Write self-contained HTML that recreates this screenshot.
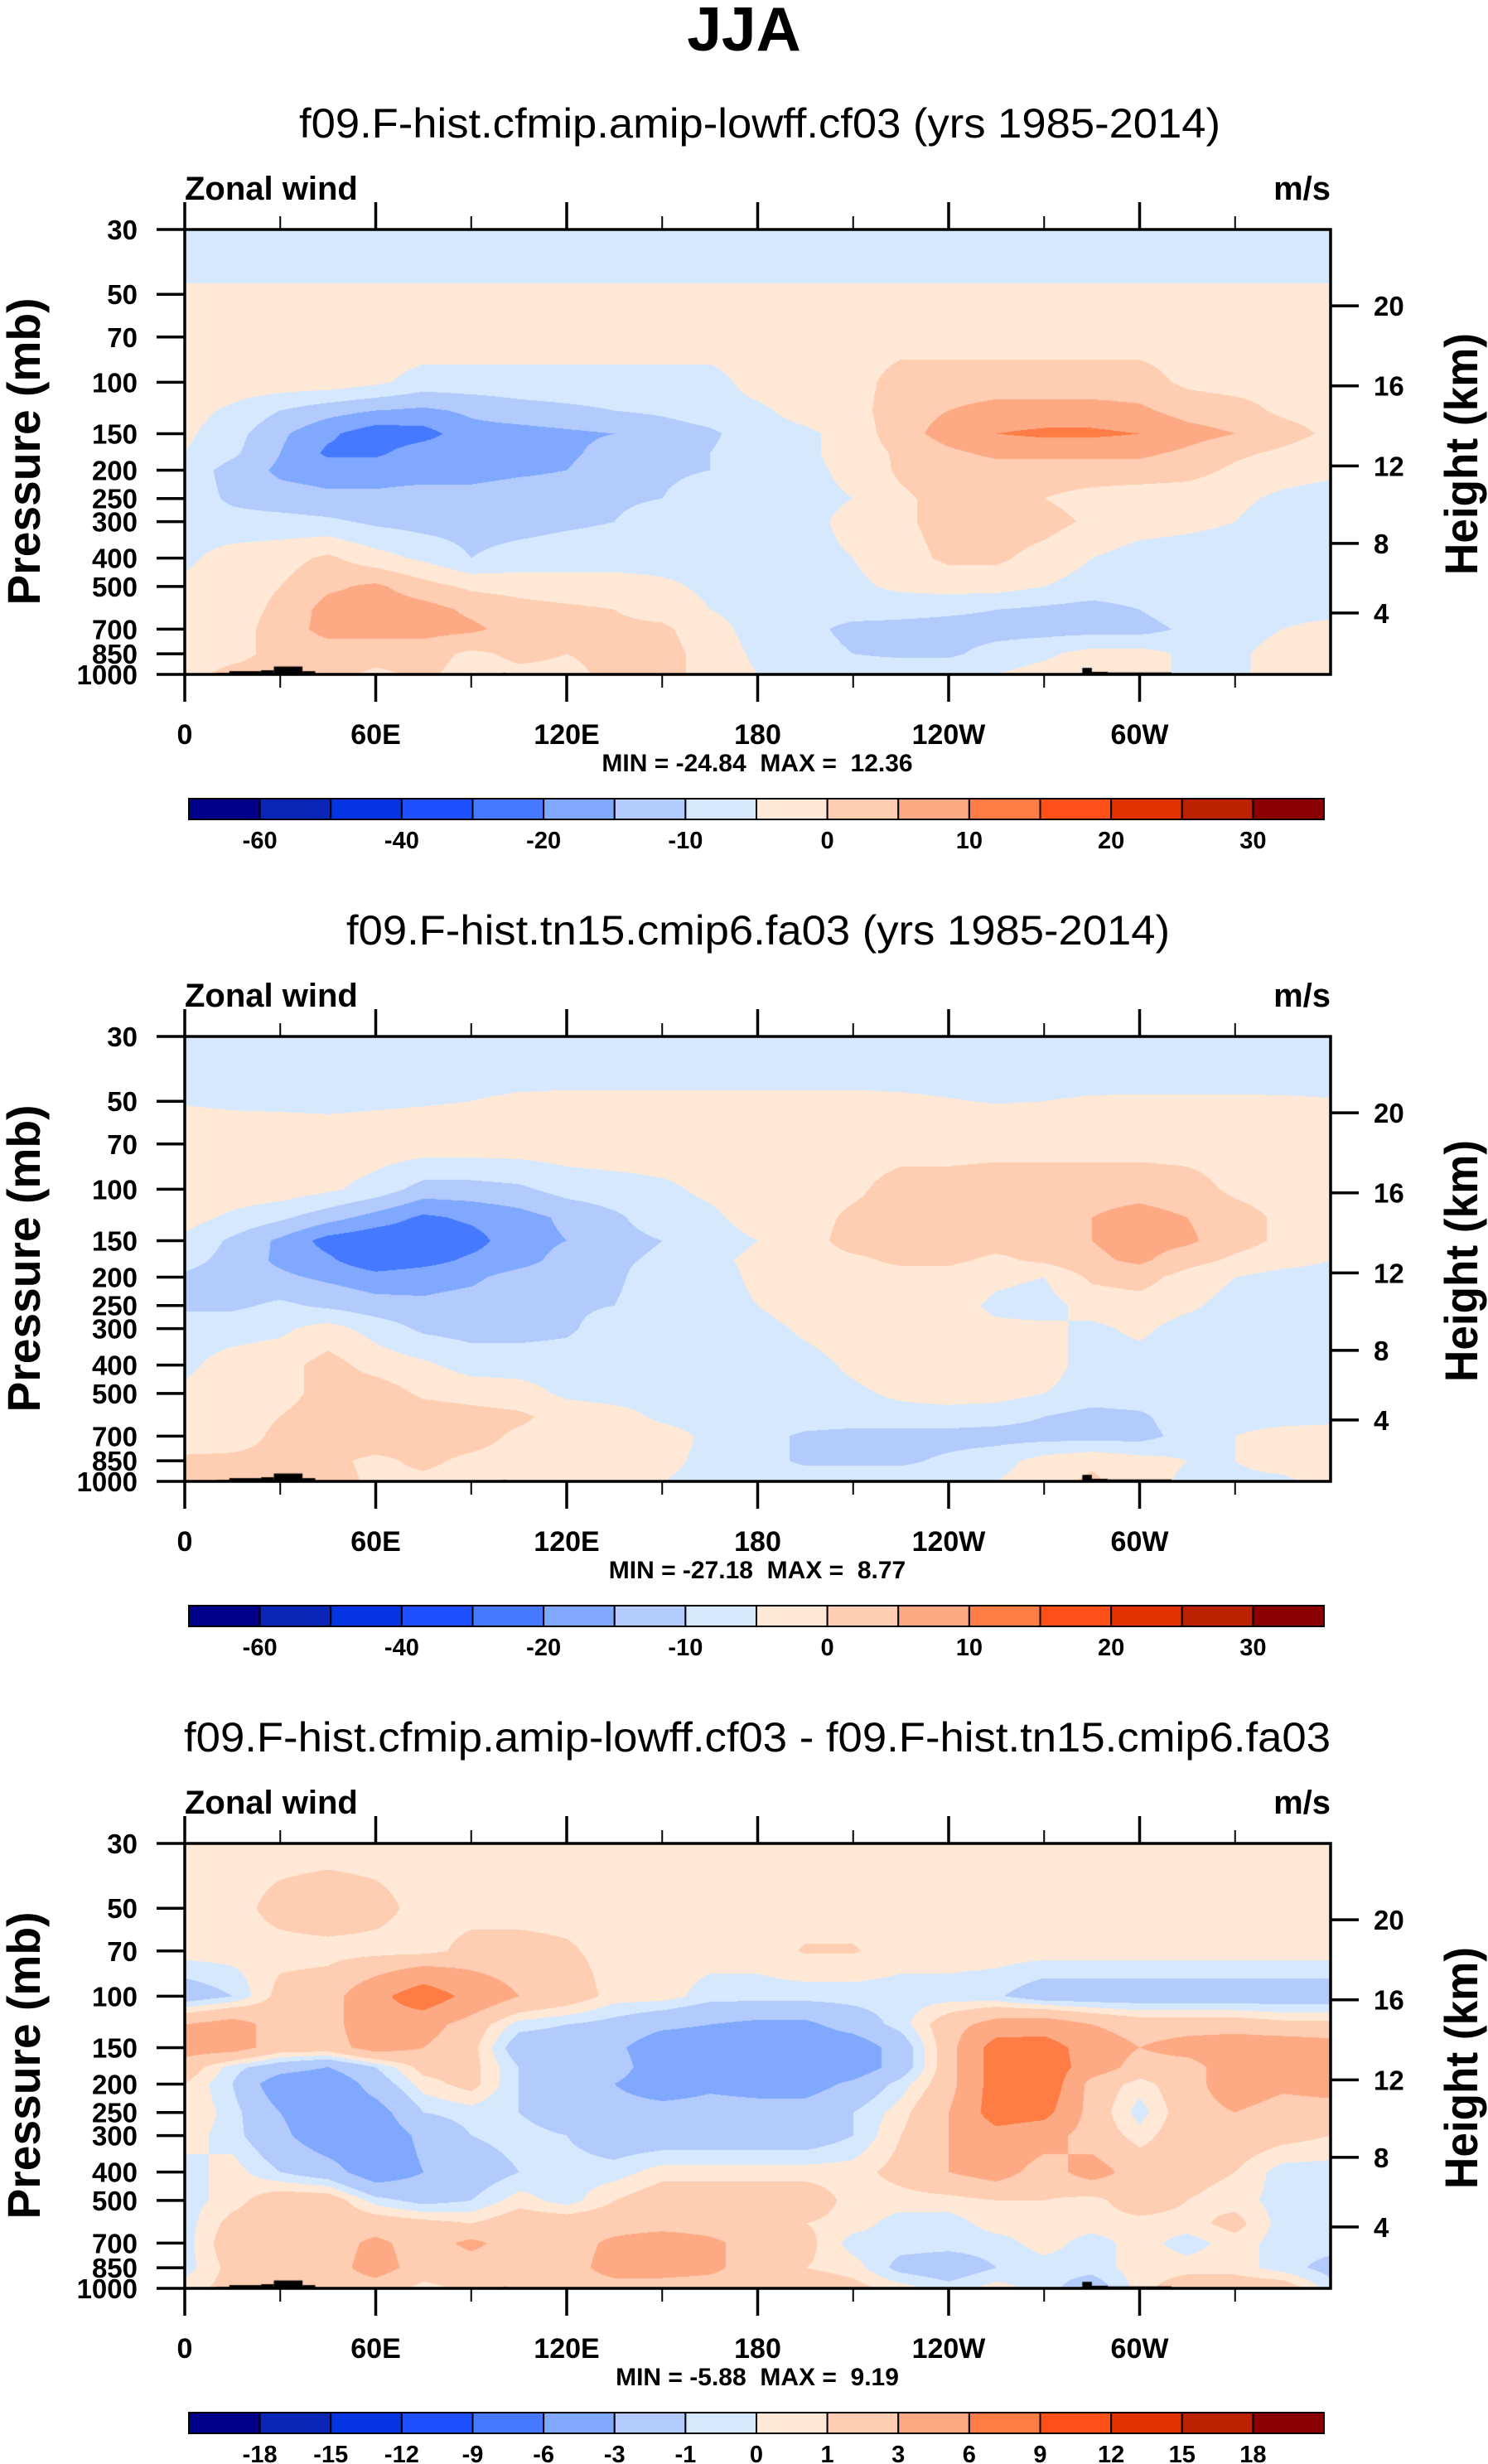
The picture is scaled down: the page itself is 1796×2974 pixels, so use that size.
<!DOCTYPE html>
<html><head><meta charset="utf-8">
<style>
html,body{margin:0;padding:0;background:#fff;}
#wrap{position:relative;width:1796px;height:2974px;overflow:hidden;background:#fff;}
canvas{position:absolute;}
svg{position:absolute;left:0;top:0;}
text{font-family:"Liberation Sans",Arial,sans-serif;white-space:pre;}
</style></head>
<body>
<div id="wrap">
<canvas id="c0" width="1383" height="537" style="left:223px;top:277px"></canvas>
<canvas id="c1" width="1383" height="537" style="left:223px;top:1251px"></canvas>
<canvas id="c2" width="1383" height="537" style="left:223px;top:2225px"></canvas>
<svg id="ov" width="1796" height="2974" viewBox="0 0 1796 2974">
<text x="898" y="61" text-anchor="middle" font-size="75" font-weight="bold">JJA</text>
<text x="917" y="166" text-anchor="middle" font-size="50" textLength="1112" lengthAdjust="spacingAndGlyphs">f09.F-hist.cfmip.amip-lowff.cf03 (yrs 1985-2014)</text>
<text x="915" y="1140" text-anchor="middle" font-size="50" textLength="994" lengthAdjust="spacingAndGlyphs">f09.F-hist.tn15.cmip6.fa03 (yrs 1985-2014)</text>
<text x="914" y="2114" text-anchor="middle" font-size="50" textLength="1384" lengthAdjust="spacingAndGlyphs">f09.F-hist.cfmip.amip-lowff.cf03 - f09.F-hist.tn15.cmip6.fa03</text>
</svg>
</div>
<script>
// ---------- data ----------
const lonGrid = [0,15,30,45,60,75,90,105,120,135,150,165,180,195,210,225,240,255,270,285,300,315,330,345,360];
const pLevels = [30,40,50,70,100,125,150,175,200,250,300,400,500,600,700,850,1000];

const field1 = [
[-7,-7,-7,-7,-7,-7,-7,-7,-7,-7,-7,-7,-7,-7,-7,-7,-7,-7,-7,-7,-7,-7,-7,-7,-7],
[-6.5,-6.5,-6.5,-6.5,-6.5,-6.5,-6.5,-6.5,-6.5,-6.5,-6.5,-6.5,-6.5,-6.5,-6.5,-6.5,-6.5,-6.5,-6.5,-6.5,-6.5,-6.5,-6.5,-6.5,-6.5],
[-4,-4,-4,-4,-4,-4,-4,-4,-4,-4,-4,-4,-4,-4,-4,-4,-4,-4,-4,-4,-4,-4,-4,-4,-4],
[-2,-2,-2,-2,-2,-2,-2,-2,-2,-2,-2,-2,-2,-2,-2,-2,-2,-2,-2,-2,-2,-2,-2,-2,-2],
[-2,-2,-2,-2,-4,-7,-7,-7,-7,-7,-7,-7,-3,-2,-2,2,2,2,2,2,2,-1,-2,-2,-2],
[-3,-6,-10,-13,-15,-16,-14,-12,-11,-10,-9,-7,-6,-3,-2,3,5,7,7,7,6,3,2,-1,-2],
[-4,-8,-14,-19,-23,-22,-17,-17,-16,-15,-13,-11,-7,-6,-3,3,7,10,11,11,10,7,5,2,-1],
[-5,-9,-15,-21,-21,-17,-17,-16,-16,-13,-11,-10,-7,-6,-3,1,4,6,6,6,6,4,1,-1,-3],
[-7,-12,-16,-17,-17,-17,-17,-16,-15,-12,-11,-10,-7,-6,-4,1,3,3,3,3,3,2,-1,-3,-4],
[-7,-11,-13,-14,-14,-13,-13,-12,-12,-11,-10,-7,-7,-6,-5,-1,2,3,0,-2,-3,-3,-4,-6,-7],
[-7,-8,-8,-9,-11,-12,-12,-12,-11,-10,-7,-7,-7,-6,-4,-1,2,3,2,-1,-3,-4,-5,-7,-7],
[-6,-3,-2,1,-3,-6,-10,-8,-7,-7,-7,-7,-7,-6,-5,-2,1,1,-2,-5,-7,-7,-7,-7,-7],
[-4,-2,0,4,6,2,-1,-2,-3,-3,-4,-6,-7,-7,-6,-4,-3,-3,-5,-7,-7,-7,-7,-7,-7],
[-3,-2,1,7,8,7,4,2,1,0,-2,-5,-7,-7,-7,-8,-9,-10,-11,-12,-10,-7,-7,-7,-7],
[-5,-2,2,7,7,7,6,3,2,1,1,-3,-7,-8,-12,-12,-12,-12,-12,-12,-12,-9,-7,-5,-3],
[-2,-1,1,2,2,2,-1,1,0,1,2,-2,-6,-7,-10,-11,-11,-8,-6,-3,-3,-6,-6,-3,-2],
[-1,1,1,2,-1,1,-2,-1,-1,1,2,-2,-5,-6,-7,-6,-6,-5,-3,-2,-3,-6,-6,-3,-2]
];
const field2 = [
[-7,-7,-7,-7,-7,-7,-7,-7,-7,-7,-7,-7,-7,-7,-7,-7,-7,-7,-7,-7,-7,-7,-7,-7,-7],
[-6.5,-6.5,-6.5,-6.5,-6.5,-6.5,-6.5,-6.5,-6.5,-6.5,-6.5,-6.5,-6.5,-6.5,-6.5,-6.5,-6.5,-6.5,-6.5,-6.5,-6.5,-6.5,-6.5,-6.5,-6.5],
[-5.3,-5.8,-6,-6.3,-5.8,-5.4,-5,-4.3,-4,-4,-4,-4,-4,-4,-4,-4.3,-4.8,-5.2,-5,-4.6,-4.5,-4.5,-4.5,-4.6,-4.8],
[-2,-2,-2,-2,-2,-2,-2,-2,-2,-2,-2,-2,-2,-2,-2,-2,-2,-2,-2,-2,-2,-2,-2,-2,-2],
[-2,-2,-2,-4,-7,-12,-12,-11,-8,-7,-6,-4,-2,-2,-1,2,2,3,3,3,3,2,-1,-2,-2],
[-3,-6,-9,-13,-17,-21,-19,-17,-14,-11,-7,-6,-3,-2,1,2,2,3,3,5,7,5,2,-1,-2],
[-6,-11,-16,-22,-24,-24,-22,-17,-15,-12,-10,-7,-5,-2,2,2,2,2,2,5,7,6,2,-1,-3],
[-8,-12,-16,-19,-24,-22,-19,-17,-13,-11,-9,-6,-4,-2,-1,1,1,-1,1,4,6,2,-1,-3,-5],
[-11,-13,-14,-16,-18,-17,-16,-13,-12,-11,-7,-7,-4,-2,-2,-2,-2,-4,-5,1,2,-2,-5,-7,-7],
[-11,-11,-9,-11,-13,-14,-13,-12,-11,-10,-7,-7,-5,-2,-2,-2,-3,-6,-7,-3,-2,-4,-7,-7,-6],
[-7,-7,-6,-3,-7,-11,-12,-12,-11,-7,-7,-7,-7,-4,-2,-2,-3,-4,-4,-6,-4,-7,-7,-7,-7],
[-6,-3,-2,2,-2,-4,-7,-7,-7,-7,-7,-7,-7,-7,-4,-2,-2,-2,-3,-7,-7,-7,-7,-7,-7],
[-4,-3,-2,2,3,-1,-2,-3,-6,-7,-7,-7,-7,-7,-6,-4,-3,-3,-5,-7,-7,-7,-7,-7,-7],
[-3,-2,0,3,4,3,2,1,-2,-3,-6,-7,-7,-7,-7,-7,-7,-8,-10,-12,-11,-7,-7,-7,-7],
[-3,-2,1,3,3,2,2,-1,-2,-2,-3,-6,-8,-11,-12,-12,-12,-12,-12,-12,-12,-8,-5,-3,-2],
[1,1,1,1,-1,1,-1,-2,-3,-3,-4,-6,-8,-11,-11,-11,-9,-7,-3,-1,-3,-5,-5,-3,-2],
[1,1,1,2,-1,-1,-2,-2,-2,-3,-5,-6,-7,-7,-7,-7,-7,-5,-2,1,-3,-6,-6,-6,-3]
];
const field3 = [
[0.5,0.5,0.5,0.5,0.5,0.5,0.5,0.5,0.5,0.5,0.5,0.5,0.5,0.5,0.5,0.5,0.5,0.5,0.5,0.5,0.5,0.5,0.5,0.5,0.5],
[0.5,0.5,1,1.2,1,0.5,0.5,0.5,0.5,0.5,0.5,0.5,0.5,0.5,0.5,0.5,0.5,0.5,0.5,0.5,0.5,0.5,0.5,0.5,0.5],
[0.5,0.5,1.5,2,1.5,0.5,0.5,0.5,0.5,0.5,0.5,0.5,0.5,0.5,0.5,0.5,0.5,0.5,0.5,0.5,0.5,0.5,0.5,0.5,0.5],
[0.5,0.5,0.5,0.5,0.5,0.5,1.5,1.5,1.2,0.5,0.5,0.5,0.5,1.1,1.1,0.5,0.5,0.5,0.5,0.5,0.5,0.5,0.5,0.5,0.5],
[-2,-1,1.5,2,5,8,5,3,2,0.5,0.5,-0.5,-0.5,-0.5,-0.5,-0.5,-0.5,-0.8,-2,-2,-2,-2,-2,-2,-2],
[3,4,2,2,5,4,2,-0.5,-1,-1.5,-2.5,-3,-3.5,-3.5,-2,-0.5,2,4,4.5,3,2,2,2,1.5,1.5],
[4,4,2,2,4,3,1.5,-2,-2,-2.5,-4.5,-4.5,-4.5,-4.5,-4.5,-2,2,7.5,7.5,4.5,3,4,4.5,4.5,4],
[2,-0.5,-2,-3,-1,1.5,1.5,-1,-2,-2,-4.5,-4.5,-4.5,-4.5,-4.5,-2,2,7.5,8,4.5,2,2,4.5,4,4.5],
[1,-1,-4.5,-5,-2,0.5,1.5,-1,-2,-3,-4.5,-3.5,-4,-4,-2.5,-0.5,2,7.5,8.5,2,0.5,2,4.5,3.5,4],
[1,-0.5,-3,-4.5,-4,-1,-0.5,-1,-2,-2,-2,-2,-2,-2,-1,0.5,3,7.5,7,2,-0.5,2,3,2,2],
[0.5,-0.5,-2.5,-4.5,-4.5,-2.5,-1,-0.5,-1,-2,-2,-2,-2,-2,-1,1,3,5,4,2,0.5,2,2,1.5,1],
[-0.5,0.5,-1,-2,-4.5,-3,-2,-1,-0.5,-0.5,0.5,0.5,0.5,0.5,0.5,1.5,3,4,2,4,2,1.5,1,-0.5,-0.5],
[-0.5,0.5,2,2,-0.5,-1.5,-1,0.5,-0.5,1,2,2,2,2,0.5,0.5,0.5,1,1,0.5,2,1,0.5,-0.5,-0.5],
[-0.5,1.5,2,2,2,1.5,1,2,2,2,2,2,2,1,0.5,-0.5,-0.5,0.5,0.5,0.5,0.5,0.5,1.5,-0.5,-0.5],
[-0.5,2,2,2,3.5,2,3.5,2,2,3.5,4.5,3.5,2,1.5,-0.5,-0.5,-0.5,-0.5,0.5,-0.5,0.5,-0.5,0.5,-0.5,-0.5],
[-0.5,1.5,2,2,4,2,2,2,2,4,4,3.5,2,1,0.5,-1.5,-2,-1,-0.5,-0.5,0.5,0.5,0.5,-0.5,-1.5],
[0.5,1.5,2,2,2,0.5,1.5,1.5,2,2,2,2,2,2,1.5,0.5,-0.5,0.5,-0.5,-2,0.5,2,2,2,-0.5]
];
const levelsAbs = [-60,-50,-40,-30,-20,-15,-10,-5,0,5,10,15,20,25,30];
const labelsAbs = ['-60','','-40','','-20','','-10','','0','','10','','20','','30'];
const levelsDiff = [-18,-15,-12,-9,-6,-3,-1,0,1,3,6,9,12,15,18];
const labelsDiff = ['-18','-15','-12','-9','-6','-3','-1','0','1','3','6','9','12','15','18'];
const palette = ['#00008b','#0a26b6','#0535e3','#1e50ff','#4579ff','#80a8ff','#b2cbfc','#d6e8fd','#ffe9d6','#fecdb2','#fdaa84','#ff7c45','#ff5019','#e23200','#bb2300','#8b0000'];
const minMaxText = ['MIN = -24.84  MAX =  12.36','MIN = -27.18  MAX =  8.77','MIN = -5.88  MAX =  9.19'];
const pTicks = [30,50,70,100,150,200,250,300,400,500,700,850,1000];
const hTicks = [4,8,12,16,20];
const lonTicks = [0,60,120,180,240,300];
const lonLabels = ['0','60E','120E','180','120W','60W'];
// terrain segments: start lon, end lon, surface pressure
const terrainStart = [10,14,24,28,37,100,282,285,290];
const terrainEnd   = [14,24,28,37,41,101,285,290,310];
const terrainP     = [990,975,968,940,975,990,950,980,985];

// ---------- geometry ----------
const X0=223, W=1383, H=537, TOP=277;
const PANEL_DY=[0,974,1948];
const LN=Math.log(1000/30);
function xOf(lon){return X0+lon/360*W;}
function yOf(p,dy){return TOP+dy+H-Math.log(1000/p)/LN*H;}
function pOfZ(zkm){const z=zkm*1000; if(z<=11000) return 1013.25*Math.pow(1-2.25577e-5*z,5.25588); return 226.32*Math.exp(-(z-11000)/6341.6);}
function hexRGB(h){return [parseInt(h.slice(1,3),16),parseInt(h.slice(3,5),16),parseInt(h.slice(5,7),16)];}
const palRGB=palette.map(hexRGB);

function drawField(cid, field, levels){
  const cv=document.getElementById(cid), ctx=cv.getContext('2d');
  const img=ctx.createImageData(W,H), d=img.data;
  const S=pLevels.map(p=>Math.log(1000/p));
  const nc=lonGrid.length-1;
  for(let py=0;py<H;py++){
    const s=(H-py-0.5)/H*LN;
    let i=0; while(i<S.length-2 && s<S[i+1]) i++;
    let t=(S[i]-s)/(S[i]-S[i+1]); t=Math.max(0,Math.min(1,t));
    const r0=field[i], r1=field[i+1];
    for(let px=0;px<W;px++){
      const lf=(px+0.5)/W*nc;
      let j=Math.floor(lf); if(j>=nc) j=nc-1;
      const u=lf-j;
      const v=(1-t)*((1-u)*r0[j]+u*r0[j+1])+t*((1-u)*r1[j]+u*r1[j+1]);
      let k=0; while(k<levels.length && v>=levels[k]) k++;
      const c=palRGB[k], o=(py*W+px)*4;
      d[o]=c[0];d[o+1]=c[1];d[o+2]=c[2];d[o+3]=255;
    }
  }
  ctx.putImageData(img,0,0);
  ctx.fillStyle='#000';
  for(let n=0;n<terrainStart.length;n++){
    const xa=terrainStart[n]/360*W, xb=terrainEnd[n]/360*W;
    const ya=yOf(terrainP[n],0)-TOP;
    ctx.fillRect(xa,ya,xb-xa,H-ya);
  }
}
drawField('c0',field1,levelsAbs);
drawField('c1',field2,levelsAbs);
drawField('c2',field3,levelsDiff);

// ---------- axes / text ----------
const NS='http://www.w3.org/2000/svg';
const ov=document.getElementById('ov');
function mk(tag,attrs,parent){const e=document.createElementNS(NS,tag);for(const k in attrs)e.setAttribute(k,attrs[k]);(parent||ov).appendChild(e);return e;}
function txt(x,y,s,size,anchor,extra){const e=mk('text',Object.assign({x:x,y:y,'font-size':size,'font-weight':'bold','text-anchor':anchor||'middle'},extra||{}));e.textContent=s;return e;}

PANEL_DY.forEach((dy,pi)=>{
  const levels=pi<2?levelsAbs:levelsDiff, labels=pi<2?labelsAbs:labelsDiff;
  let e;
  e=txt(X0,241+dy,'Zonal wind',40,'start');
  
  
  e=txt(1606,241+dy,'m/s',40,'end');
  
  
  e=mk('rect',{x:X0,y:TOP+dy,width:W,height:H,fill:'none',stroke:'#000','stroke-width':3.5});
  
  
  for(let lon=0;lon<360;lon+=30){
    const x=xOf(lon), major=lon%60===0, len=major?33:16;
    mk('line',{x1:x,x2:x,y1:TOP+dy,y2:TOP+dy-len,stroke:'#000','stroke-width':major?3.5:2});
    mk('line',{x1:x,x2:x,y1:TOP+dy+H,y2:TOP+dy+H+len,stroke:'#000','stroke-width':major?3.5:2});
  }
  lonTicks.forEach((lon,i)=>{
    e=txt(xOf(lon),898+dy,lonLabels[i],34,'middle');
    
    
  });
  pTicks.forEach(p=>{
    const y=yOf(p,dy);
    mk('line',{x1:X0,x2:X0-34,y1:y,y2:y,stroke:'#000','stroke-width':3.5});
    e=txt(166,y+12,String(p),33,'end');
    
    
  });
  hTicks.forEach(h=>{
    const y=yOf(pOfZ(h),dy);
    mk('line',{x1:X0+W,x2:X0+W+34,y1:y,y2:y,stroke:'#000','stroke-width':3.5});
    e=txt(1658,y+12,String(h),33,'start');
    
    
  });
  e=txt(0,0,'Pressure (mb)',56,'middle',{transform:'translate(48,'+(545+dy)+') rotate(-90)',textLength:371,lengthAdjust:'spacingAndGlyphs'});
  
  
  e=txt(0,0,'Height (km)',56,'middle',{transform:'translate(1783,'+(548+dy)+') rotate(-90)',textLength:292,lengthAdjust:'spacingAndGlyphs'});
  
  
  e=txt(914,931+dy,minMaxText[pi],30,'middle');
  
  
  const cbx=228, cbw=1370, cby=964+dy, cbh=25, bw=cbw/palette.length;
  palette.forEach((col,k)=>{
    const r=mk('rect',{x:cbx+k*bw,y:cby,width:bw,height:cbh,fill:col,stroke:'#000','stroke-width':2});
    
    
  });
  levels.forEach((lv,k)=>{
    if(!labels[k]) return;
    e=txt(cbx+(k+1)*bw,1024+dy,labels[k],29,'middle');
    
    
  });
});
</script>
</body></html>
